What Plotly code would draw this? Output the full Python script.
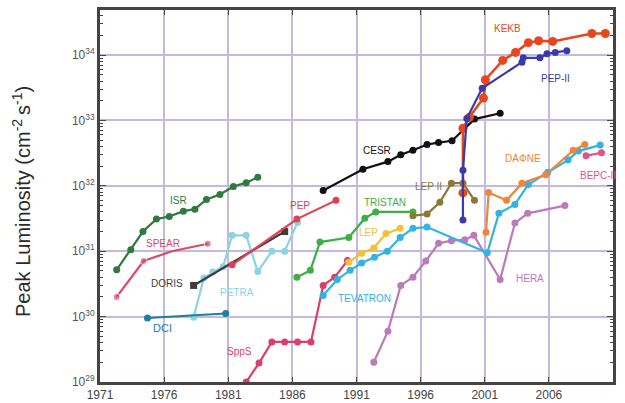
import plotly.graph_objects as go

# ---- collider peak luminosity data (year, cm^-2 s^-1) ----
isr_year = [1972.3, 1973.4, 1974.35, 1975.4, 1976.4, 1977.5, 1978.4, 1979.3, 1980.35, 1981.4, 1982.4, 1983.3]
isr_lumi = [5.2e30, 1.05e31, 2.0e31, 3.1e31, 3.4e31, 4.1e31, 4.4e31, 6.2e31, 7.4e31, 9.8e31, 1.12e32, 1.35e32]

spear_year = [1972.3, 1974.4, 1976.6, 1979.4]
spear_lumi = [2.0e30, 7.1e30, 1.0e31, 1.3e31]
spear_marked = [True, True, False, True]

doris_year = [1978.3, 1985.4]
doris_lumi = [3.0e30, 2.0e31]

petra_year = [1978.3, 1979.1, 1979.8, 1980.6, 1981.3, 1982.4, 1983.3, 1984.4, 1985.4, 1986.4]
petra_lumi = [9.8e29, 3.9e30, 4.8e30, 5.8e30, 1.75e31, 1.75e31, 4.9e30, 1.0e31, 1.0e31, 2.75e31]

dci_year = [1974.7, 1980.8]
dci_lumi = [9.5e29, 1.12e30]

spps_year = [1982.4, 1983.4, 1984.4, 1985.4, 1986.4, 1987.45, 1988.4, 1989.3, 1990.3]
spps_lumi = [1.0e29, 1.95e29, 4.1e29, 4.1e29, 4.1e29, 4.1e29, 3.0e30, 4.0e30, 7.2e30]

pep_year = [1981.3, 1986.35, 1989.4]
pep_lumi = [6.2e30, 3.1e31, 6.0e31]

cesr_year = [1988.4, 1991.5, 1993.45, 1994.45, 1995.4, 1996.5, 1997.4, 1998.45, 2000.2, 2002.2]
cesr_lumi = [8.5e31, 1.8e32, 2.35e32, 3.0e32, 3.5e32, 4.3e32, 4.6e32, 4.9e32, 1.05e33, 1.29e33]

tristan_year = [1986.35, 1987.4, 1988.15, 1990.4, 1991.65, 1992.5, 1995.4]
tristan_lumi = [4.0e30, 5.1e30, 1.38e31, 1.62e31, 3.2e31, 4.0e31, 4.0e31]

lep_year = [1990.4, 1991.4, 1992.35, 1993.3, 1994.4]
lep_lumi = [6.8e30, 9.3e30, 1.12e31, 1.86e31, 2.24e31]

lep2_year = [1995.4, 1996.5, 1997.5, 1998.4, 1999.3, 2000.2]
lep2_lumi = [3.5e31, 3.7e31, 5.6e31, 1.1e32, 1.1e32, 6.0e31]

tev_year = [1988.4, 1989.5, 1990.5, 1991.4, 1992.4, 1993.4, 1994.4, 1995.4, 1996.5,
            2001.2, 2002.1, 2003.35, 2004.4, 2005.9, 2007.5, 2008.3, 2010.0]
tev_lumi = [2.1e30, 3.7e30, 5.1e30, 6.6e30, 8.1e30, 1.0e31, 1.62e31, 2.24e31, 2.34e31,
            9.5e30, 3.8e31, 5.2e31, 1.05e32, 1.6e32, 2.5e32, 3.4e32, 4.2e32]

hera_year = [1992.35, 1993.45, 1994.45, 1995.4, 1996.4, 1997.4, 1998.4, 1999.45, 2000.15,
             2002.2, 2003.35, 2004.35, 2007.25]
hera_lumi = [2.0e29, 6.0e29, 3.0e30, 4.0e30, 7.1e30, 1.32e31, 1.45e31, 1.5e31, 1.75e31,
             3.7e30, 2.7e31, 3.8e31, 5.0e31]

pep2_year = [1999.3, 1999.3, 1999.6, 2000.8, 2003.9, 2004.0, 2005.3, 2005.85, 2006.5, 2007.4]
pep2_lumi = [3.0e31, 1.74e32, 1.07e33, 3.1e33, 7.8e33, 9.1e33, 9.1e33, 1.05e34, 1.1e34, 1.17e34]

kekb_year = [1999.3, 1999.3, 1999.8, 2000.9, 2001.05, 2002.4, 2003.4, 2004.4, 2005.2, 2006.3, 2009.35, 2010.4]
kekb_lumi = [7.8e31, 7.6e32, 1.12e33, 2.2e33, 4.2e33, 8.3e33, 1.1e34, 1.55e34, 1.66e34, 1.62e34, 2.14e34, 2.14e34]

daphne_year = [2001.1, 2001.3, 2002.7, 2003.9, 2005.75, 2007.9, 2008.8]
daphne_lumi = [1.95e31, 7.9e31, 6.0e31, 1.1e32, 1.48e32, 3.5e32, 4.3e32]

bepc2_year = [2008.9, 2010.1]
bepc2_lumi = [2.9e32, 3.2e32]

x_ticks = [1971, 1976, 1981, 1986, 1991, 1996, 2001, 2006, 2011]
y_exponents = [29, 30, 31, 32, 33, 34]

# ---- figure ----
fig = go.Figure()


def add_series(x, y, color, size=7, symbol="circle", width=2.2, sizes=None):
    fig.add_trace(go.Scatter(
        x=x, y=y, mode="lines+markers",
        line=dict(color=color, width=width),
        marker=dict(color=color, size=sizes if sizes is not None else size, symbol=symbol),
        showlegend=False, hoverinfo="skip", cliponaxis=True,
    ))


C_ISR = "#2f7a3c"
C_SPEAR = "#dc4a64"
C_DORIS = "#3f3c3c"
C_PETRA = "#8ed3e2"
C_DCI = "#1b7fa0"
C_SPPS = "#d8406a"
C_PEP = "#e0404f"
C_CESR = "#111111"
C_TRISTAN = "#3fae45"
C_LEP = "#efc23a"
C_LEP2 = "#8a7a36"
C_TEV = "#32b3e3"
C_HERA = "#bb7ab9"
C_PEP2 = "#3a3aa8"
C_KEKB = "#e8461f"
C_DAPHNE = "#f0843a"
C_BEPC2 = "#e0568c"

add_series(isr_year, isr_lumi, C_ISR)
add_series(spear_year, spear_lumi, C_SPEAR, sizes=[7 if m else 0 for m in spear_marked])
add_series(petra_year, petra_lumi, C_PETRA)
add_series(doris_year, doris_lumi, C_DORIS, symbol="square")
add_series(pep_year, pep_lumi, C_PEP)
add_series(spps_year, spps_lumi, C_SPPS)
add_series(hera_year, hera_lumi, C_HERA)
add_series(tristan_year, tristan_lumi, C_TRISTAN)
add_series(tev_year, tev_lumi, C_TEV)
add_series(lep_year, lep_lumi, C_LEP)
add_series(lep2_year, lep2_lumi, C_LEP2)
add_series(cesr_year, cesr_lumi, C_CESR)
add_series(daphne_year, daphne_lumi, C_DAPHNE)
add_series(bepc2_year, bepc2_lumi, C_BEPC2)
add_series(kekb_year, kekb_lumi, C_KEKB, size=9, width=2.6)
add_series(pep2_year, pep2_lumi, C_PEP2)
add_series(dci_year, dci_lumi, C_DCI, size=7, width=2)

# series labels: (text, year, log10 luminosity, colour, size)
labels = [
    ("ISR", 1977.1, 31.78, C_ISR, 10),
    ("SPEAR", 1975.9, 31.12, C_SPEAR, 10),
    ("DORIS", 1976.2, 30.50, C_DORIS, 10),
    ("PETRA", 1981.7, 30.37, C_PETRA, 10),
    ("DCI", 1975.9, 29.82, C_DCI, 11),
    ("SppS", 1981.9, 29.46, C_SPPS, 10),
    ("PEP", 1986.6, 31.70, C_PEP, 10),
    ("CESR", 1992.6, 32.54, C_CESR, 10),
    ("TRISTAN", 1993.2, 31.75, C_TRISTAN, 10),
    ("LEP", 1991.9, 31.29, C_LEP, 10),
    ("LEP II", 1996.6, 31.99, C_LEP2, 10),
    ("TEVATRON", 1991.6, 30.28, C_TEV, 10),
    ("HERA", 2004.5, 30.59, C_HERA, 10),
    ("KEKB", 2002.8, 34.40, C_KEKB, 10),
    ("PEP-II", 2006.5, 33.64, C_PEP2, 10),
    ("DAΦNE", 2004.0, 32.42, C_DAPHNE, 10),
    ("BEPC-II", 2009.8, 32.16, C_BEPC2, 10),
]
for text, lx, ly, col, fs in labels:
    fig.add_annotation(x=lx, y=ly, xref="x", yref="y", text=text, showarrow=False,
                       font=dict(family="Liberation Sans, Arial", size=fs, color=col))

# y-axis title
fig.add_annotation(
    xref="paper", yref="paper", x=-0.152, y=0.484, xanchor="center", yanchor="middle",
    text="Peak Luminosity (cm<sup>-2 </sup>s<sup>-1</sup>)", textangle=-90, showarrow=False,
    font=dict(family="Liberation Sans, Arial", size=20, color="#2a2a2a"),
)

minor_vals = [float(m) * 10.0 ** e for e in range(28, 35) for m in range(2, 10)]

frame = "#4a4242"
grid = "#c4b8de"
fig.update_xaxes(
    range=[1971, 2011], tickmode="array", tickvals=x_ticks, ticktext=[str(v) for v in x_ticks],
    showgrid=True, gridcolor=grid, gridwidth=1.5,
    showline=True, linecolor=frame, linewidth=3, mirror="ticks",
    ticks="inside", ticklen=5, tickcolor=frame, zeroline=False,
    automargin=False,
    tickfont=dict(family="Liberation Sans, Arial", size=12, color="#444444"),
)
fig.update_yaxes(
    type="log", range=[29, 34.69],
    tickmode="array", tickvals=[10.0 ** e for e in y_exponents],
    ticktext=[f"10<sup>{e}</sup>" for e in y_exponents],
    showgrid=True, gridcolor=grid, gridwidth=1.5,
    showline=True, linecolor=frame, linewidth=3, mirror="ticks",
    ticks="inside", ticklen=6, tickcolor=frame, zeroline=False, automargin=False,
    minor=dict(tickmode="array", tickvals=minor_vals, ticks="inside", ticklen=3,
               tickcolor=frame, showgrid=False),
    tickfont=dict(family="Liberation Sans, Arial", size=12, color="#555555"),
)

fig.update_layout(
    width=625, height=403,
    margin=dict(l=100, r=12, t=10, b=21),
    paper_bgcolor="white", plot_bgcolor="white",
)

fig.write_html("out.html")
